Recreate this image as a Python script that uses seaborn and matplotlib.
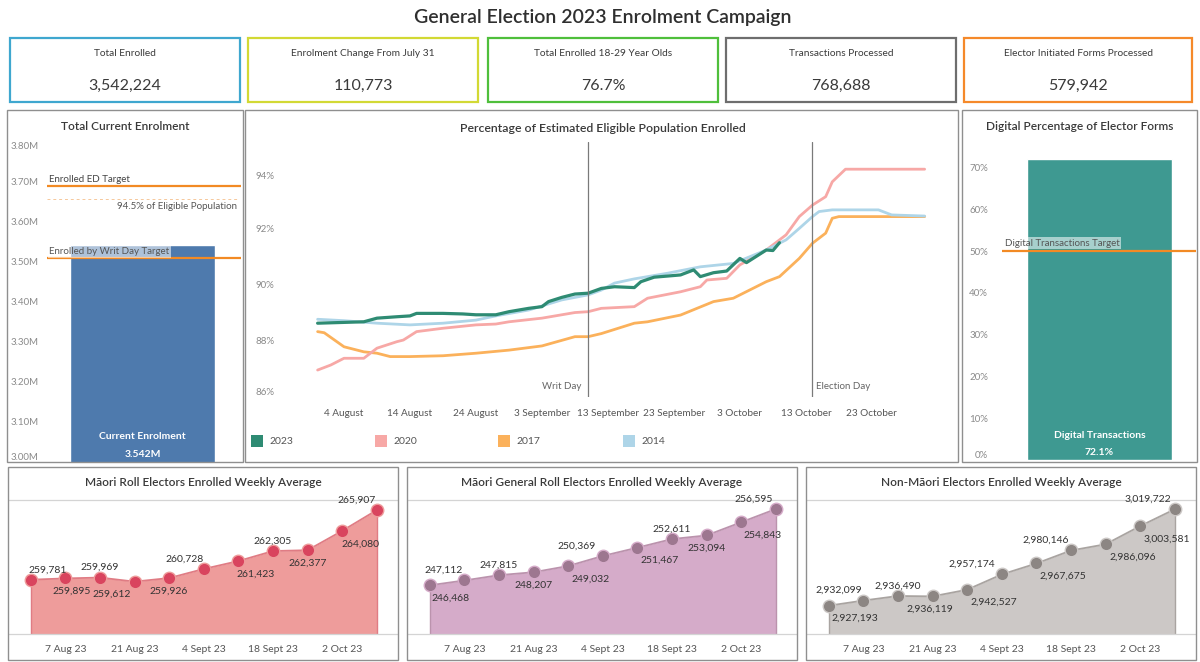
import pandas as pd
import matplotlib
matplotlib.use("Agg")
import matplotlib.pyplot as plt
from matplotlib.patches import Rectangle
from matplotlib.ticker import FuncFormatter, FixedLocator
import seaborn as sns

# ---------------------------------------------------------------- data
kpi_labels = ["Total Enrolled", "Enrolment Change From July 31", "Total Enrolled 18-29 Year Olds",
              "Transactions Processed", "Elector Initiated Forms Processed"]
kpi_values = ["3,542,224", "110,773", "76.7%", "768,688", "579,942"]
kpi_colors = ["#3fa7cf", "#d2d934", "#4fbf3b", "#6e6e6e", "#f5892a"]

current_enrolment = 3.542e6
ed_target = 3.69e6
eligible_945 = 3.657e6
writ_day_target = 3.51e6

digital_share = 72.1
digital_target = 50.0

years = ["2023", "2020", "2017", "2014"]
year_colors = {"2023": "#2e8b73", "2020": "#f7a8a6", "2017": "#fbb15b", "2014": "#aed5e8"}

dates_2023 = ["07-31", "08-07", "08-09", "08-12", "08-14", "08-15", "08-19", "08-22", "08-24", "08-27",
              "08-29", "09-01", "09-03", "09-04", "09-06", "09-08", "09-10", "09-12", "09-14", "09-17",
              "09-18", "09-20", "09-24", "09-26", "09-27", "09-29", "10-01", "10-03", "10-04", "10-07",
              "10-08", "10-09"]
pct_2023 = [88.62, 88.67, 88.80, 88.85, 88.88, 88.97, 88.97, 88.95, 88.92, 88.92,
            89.03, 89.15, 89.21, 89.39, 89.54, 89.66, 89.69, 89.86, 89.92, 89.89,
            90.10, 90.26, 90.34, 90.52, 90.28, 90.42, 90.48, 90.93, 90.78, 91.23,
            91.21, 91.49]

dates_2020 = ["07-31", "08-02", "08-04", "08-07", "08-09", "08-12", "08-13", "08-15", "08-19", "08-24",
              "08-27", "08-29", "09-03", "09-08", "09-10", "09-12", "09-17", "09-19", "09-24", "09-27",
              "09-28", "10-01", "10-03", "10-07", "10-10", "10-12", "10-14", "10-16", "10-17", "10-19",
              "10-31"]
pct_2020 = [86.95, 87.13, 87.37, 87.37, 87.73, 87.96, 88.02, 88.32, 88.44, 88.56,
            88.59, 88.67, 88.80, 89.00, 89.03, 89.15, 89.21, 89.51, 89.74, 89.92,
            90.16, 90.22, 90.70, 91.23, 91.77, 92.42, 92.83, 93.13, 93.66, 94.11,
            94.11]

dates_2017 = ["07-31", "08-01", "08-04", "08-07", "08-09", "08-11", "08-14", "08-19", "08-24", "08-29",
              "09-03", "09-08", "09-10", "09-12", "09-17", "09-19", "09-24", "09-29", "10-02", "10-07",
              "10-09", "10-12", "10-14", "10-16", "10-17", "10-18", "10-31"]
pct_2017 = [88.32, 88.28, 87.78, 87.60, 87.55, 87.43, 87.43, 87.46, 87.55, 87.66,
            87.81, 88.14, 88.14, 88.25, 88.62, 88.67, 88.91, 89.39, 89.51, 90.10,
            90.28, 90.93, 91.47, 91.83, 92.36, 92.42, 92.42]

dates_2014 = ["07-31", "08-04", "08-09", "08-14", "08-19", "08-24", "08-27", "09-01", "09-06", "09-10",
              "09-12", "09-14", "09-17", "09-22", "09-27", "10-02", "10-07", "10-10", "10-12", "10-14",
              "10-15", "10-17", "10-24", "10-26", "10-31"]
pct_2014 = [88.76, 88.71, 88.62, 88.56, 88.62, 88.73, 88.88, 89.09, 89.45, 89.63,
            89.80, 90.05, 90.20, 90.40, 90.63, 90.75, 91.23, 91.59, 92.00, 92.42,
            92.60, 92.66, 92.66, 92.48, 92.44]

writ_day = "2023-09-10"
election_day = "2023-10-14"
pct_ticks = ["2023-08-04", "2023-08-14", "2023-08-24", "2023-09-03", "2023-09-13",
             "2023-09-23", "2023-10-03", "2023-10-13", "2023-10-23"]

week_dates = ["2023-07-31", "2023-08-07", "2023-08-14", "2023-08-21", "2023-08-28", "2023-09-04",
              "2023-09-11", "2023-09-18", "2023-09-25", "2023-10-02", "2023-10-09"]
week_ticks = ["2023-08-07", "2023-08-21", "2023-09-04", "2023-09-18", "2023-10-02"]
week_tick_labels = ["7 Aug 23", "21 Aug 23", "4 Sept 23", "18 Sept 23", "2 Oct 23"]

maori_roll = [259781, 259895, 259969, 259612, 259926, 260728, 261423, 262305, 262377, 264080, 265907]
maori_general = [246468, 247112, 247815, 248207, 249032, 250369, 251467, 252611, 253094, 254843, 256595]
non_maori = [2927193, 2932099, 2936490, 2936119, 2942527, 2957174, 2967675, 2980146, 2986096,
             3003581, 3019722]

# ---------------------------------------------------------------- style
sns.set_theme(style="white")
plt.rcParams["font.family"] = ["Lato", "DejaVu Sans"]

W, H = 1200, 662
fig = plt.figure(figsize=(W / 100, H / 100), dpi=100)
fig.patch.set_facecolor("white")

TXT = "#333333"
TICK = "#8a8a8a"
FRAME = "#8f8f8f"
HEAD = "#3a3a3a"


def add_ax(x0, y0, x1, y1):
    return fig.add_axes([x0 / W, 1 - y1 / H, (x1 - x0) / W, (y1 - y0) / H])


def frame(x0, y0, x1, y1, color=FRAME, lw=1.0):
    fig.add_artist(Rectangle((x0 / W, 1 - y1 / H), (x1 - x0) / W, (y1 - y0) / H,
                             transform=fig.transFigure, fill=False, edgecolor=color, linewidth=lw))


def ftext(x, y, s, **kw):
    kw.setdefault("ha", "center")
    kw.setdefault("va", "center")
    kw.setdefault("color", TXT)
    return fig.text(x / W, 1 - y / H, s, **kw)


def clean(ax):
    for s in ax.spines.values():
        s.set_visible(False)
    ax.set_xlabel("")
    ax.set_ylabel("")
    ax.grid(False)
    ax.set_facecolor("none")


def edge_labels(ax):
    labels = ax.get_yticklabels()
    if labels:
        labels[0].set_va("bottom")
        labels[-1].set_va("top")


# ---------------------------------------------------------------- title + KPI cards
ftext(603, 18, "General Election 2023 Enrolment Campaign", fontsize=14, fontweight="semibold",
      color="#2f2f2f")

card_x = [(10, 240), (248, 478), (488, 718), (726, 956), (964, 1192)]
for (x0, x1), lab, val, col in zip(card_x, kpi_labels, kpi_values, kpi_colors):
    frame(x0, 38, x1, 102, color=col, lw=1.6)
    ftext((x0 + x1) / 2, 53, lab, fontsize=7.3, color="#3a3a3a")
    ftext((x0 + x1) / 2, 86, val, fontsize=11.5, color="#3a3a3a")

# ---------------------------------------------------------------- panel frames
frame(7, 110, 243, 462)
frame(245, 110, 958, 462)
frame(962, 110, 1197, 462)
for x0, x1 in [(8, 398), (407, 797), (806, 1196)]:
    frame(x0, 467, x1, 660)

# ---------------------------------------------------------------- total current enrolment
axL = add_ax(47, 141.7, 241, 461.7)
sns.barplot(x=["Current Enrolment"], y=[current_enrolment], color="#4e7aad", saturation=1,
            width=0.8, ax=axL)
axL.set_xlim(-0.527, 0.543)
axL.set_ylim(3.0e6, 3.8e6)
clean(axL)
axL.set_xticks([])
axL.yaxis.set_major_locator(FixedLocator([3.0e6 + i * 1e5 for i in range(9)]))
axL.yaxis.set_major_formatter(FuncFormatter(lambda v, p: f"{v / 1e6:.2f}M"))
axL.tick_params(axis="y", length=0, pad=6, labelsize=7, labelcolor=TICK)
edge_labels(axL)
axL.axhline(ed_target, color="#f28a24", lw=1.6)
axL.axhline(writ_day_target, color="#f28a24", lw=1.6)
axL.plot([-0.527, 0.52], [eligible_945, eligible_945], color="#f6c89b", lw=0.7, ls=(0, (3, 3)))
axL.text(-0.515, ed_target + 0.004e6, "Enrolled ED Target", fontsize=7, color="#444444",
         ha="left", va="bottom")
axL.text(0.52, eligible_945 - 0.007e6, "94.5% of Eligible Population", fontsize=7,
         color="#555555", ha="right", va="top")
axL.text(-0.515, writ_day_target + 0.004e6, "Enrolled by Writ Day Target", fontsize=7,
         color="#555555", ha="left", va="bottom",
         bbox=dict(boxstyle="square,pad=0.15", facecolor="white", edgecolor="none", alpha=0.55))
ftext(125, 127, "Total Current Enrolment", fontsize=8.6, fontweight="semibold", color=HEAD)
axL.text(0, 3.0e6 + 0.0625e6, "Current Enrolment", fontsize=7.5, fontweight="bold",
         color="white", ha="center", va="center")
axL.text(0, 3.0e6 + 0.017e6, f"{current_enrolment / 1e6:.3f}M", fontsize=7.5,
         fontweight="bold", color="white", ha="center", va="center")

# ---------------------------------------------------------------- percentage enrolled line chart
series = {"2023": (dates_2023, pct_2023), "2020": (dates_2020, pct_2020),
          "2017": (dates_2017, pct_2017), "2014": (dates_2014, pct_2014)}
rows = []
for yr, (ds, vs) in series.items():
    for d, v in zip(ds, vs):
        rows.append({"date": pd.Timestamp("2023-" + d), "pct": v, "year": yr})
pct_df = pd.DataFrame(rows)

axM = add_ax(280, 141.7, 955, 396.7)
for yr in ["2017", "2020", "2014", "2023"]:
    sns.lineplot(data=pct_df[pct_df["year"] == yr], x="date", y="pct", color=year_colors[yr],
                 lw=2.3 if yr == "2023" else 2.0, ax=axM, legend=False)
ref = pd.Timestamp("2023-10-13")
axM.set_xlim(ref - pd.Timedelta(days=79.7), ref + pd.Timedelta(days=22.6))
axM.set_ylim(86, 95.09)
clean(axM)
axM.yaxis.set_major_locator(FixedLocator([86, 88, 90, 92, 94]))
axM.yaxis.set_major_formatter(FuncFormatter(lambda v, p: f"{v:.0f}%"))
edge_labels(axM)
tick_ts = [pd.Timestamp(t) for t in pct_ticks]
axM.set_xticks(tick_ts)
axM.set_xticklabels([f"{t.day} {t.strftime('%B')}" for t in tick_ts])
axM.tick_params(axis="y", length=0, pad=4, labelsize=7, labelcolor=TICK)
axM.tick_params(axis="x", length=0, pad=9, labelsize=7.2, labelcolor="#555555")
for day, lab, ha, dx in [(writ_day, "Writ Day", "right", -1.0), (election_day, "Election Day", "left", 0.6)]:
    t = pd.Timestamp(day)
    axM.axvline(t, color="#7a7a7a", lw=0.9)
    axM.text(t + pd.Timedelta(days=dx), 86.2, lab, fontsize=7, color="#666666", ha=ha, va="bottom")
ftext(603, 128, "Percentage of Estimated Eligible Population Enrolled", fontsize=8.8,
      fontweight="semibold", color=HEAD)

legend_x = [251, 375, 498, 623]
for x, yr in zip(legend_x, years):
    fig.add_artist(Rectangle((x / W, 1 - 447 / H), 12 / W, 12 / H, transform=fig.transFigure,
                             facecolor=year_colors[yr], edgecolor="none"))
    ftext(x + 18, 441, yr, fontsize=7.5, ha="left", color="#555555")

# ---------------------------------------------------------------- digital share
axR = add_ax(1002, 141.7, 1196, 460)
sns.barplot(x=["Digital Transactions"], y=[digital_share], color="#3e9991", saturation=1,
            width=0.8, ax=axR)
axR.set_xlim(-0.538, 0.532)
axR.set_ylim(0, 76.15)
clean(axR)
axR.set_xticks([])
axR.yaxis.set_major_locator(FixedLocator(list(range(0, 80, 10))))
axR.yaxis.set_major_formatter(FuncFormatter(lambda v, p: f"{v:.0f}%"))
axR.tick_params(axis="y", length=0, pad=10, labelsize=7, labelcolor=TICK)
axR.get_yticklabels()[0].set_va("bottom")
axR.axhline(digital_target, color="#f28a24", lw=1.6)
axR.text(-0.52, digital_target + 0.8, "Digital Transactions Target", fontsize=7, color="#555555",
         ha="left", va="bottom",
         bbox=dict(boxstyle="square,pad=0.15", facecolor="white", edgecolor="none", alpha=0.55))
ftext(1080, 127, "Digital Percentage of Elector Forms", fontsize=8.6, fontweight="semibold",
      color=HEAD)
axR.text(0, 5.8, "Digital Transactions", fontsize=7.5, fontweight="bold", color="white",
         ha="center", va="center")
axR.text(0, 1.9, f"{digital_share:.1f}%", fontsize=7.5, fontweight="bold", color="white",
         ha="center", va="center")

# ---------------------------------------------------------------- weekly averages
week_ts = [pd.Timestamp(d) for d in week_dates]
panels = [
    ((8, 398), "Māori Roll Electors Enrolled Weekly Average", maori_roll, (255000, 266800),
     "#ee9c9b", "#e07c84", "#d9445e",
     ["a", "b", "a", "b", "b", "a", "b", "a", "b", "b", "a"],
     [17, 6, 0, -23, 0, -19, 17, 0, 0, 18, -20]),
    ((407, 797), "Māori General Roll Electors Enrolled Weekly Average", maori_general,
     (240000, 257800), "#d5abc9", "#bb93ad", "#9d7790",
     ["b", "a", "a", "b", "b", "a", "b", "a", "b", "b", "a"],
     [21, -21, 0, 0, 22, -26, 22, 0, 0, 21, -22]),
    ((806, 1196), "Non-Māori Electors Enrolled Weekly Average", non_maori, (2900000, 3028600),
     "#ccc8c6", "#a9a4a1", "#8c8683",
     ["b", "a", "a", "b", "b", "a", "b", "a", "b", "b", "a"],
     [26, -25, 0, -3, 27, -30, 27, -25, 27, 27, -27]),
]
for (x0, x1), title, vals, ylim, fill, line, mark, side, dxs in panels:
    ax = add_ax(x0 + 1, 500, x1 - 1, 634)
    wdf = pd.DataFrame({"week": week_ts, "avg": vals})
    ax.fill_between(wdf["week"], wdf["avg"], ylim[0], color=fill, lw=0)
    ax.vlines([week_ts[0], week_ts[-1]], ylim[0], [vals[0], vals[-1]], color=line, lw=1.0)
    sns.lineplot(data=wdf, x="week", y="avg", color=line, lw=1.3, marker="o", markersize=9,
                 markerfacecolor=mark, markeredgecolor=fill, markeredgewidth=1.0, ax=ax)
    ax.set_xlim(week_ts[0] - pd.Timedelta(days=4.4), week_ts[-1] + pd.Timedelta(days=4.1))
    ax.set_ylim(*ylim)
    clean(ax)
    for sp in ("top", "bottom"):
        ax.spines[sp].set_visible(True)
        ax.spines[sp].set_color("#d4d4d4")
        ax.spines[sp].set_linewidth(0.9)
    ax.set_yticks([])
    ax.set_xticks([pd.Timestamp(t) for t in week_ticks])
    ax.set_xticklabels(week_tick_labels)
    ax.tick_params(axis="x", length=0, pad=8, labelsize=7.5, labelcolor="#555555")
    for t, v, s, dx in zip(week_ts, vals, side, dxs):
        dy = 10 if s == "a" else -13
        ax.annotate(f"{v:,}", (t, v), xytext=(dx, dy), textcoords="offset pixels",
                    ha="center", va="center", fontsize=7.5, color="#333333")
    ftext((x0 + x1) / 2, 483, title, fontsize=8.6, fontweight="semibold", color=HEAD)

fig.savefig("out.png", dpi=100, facecolor="white")
